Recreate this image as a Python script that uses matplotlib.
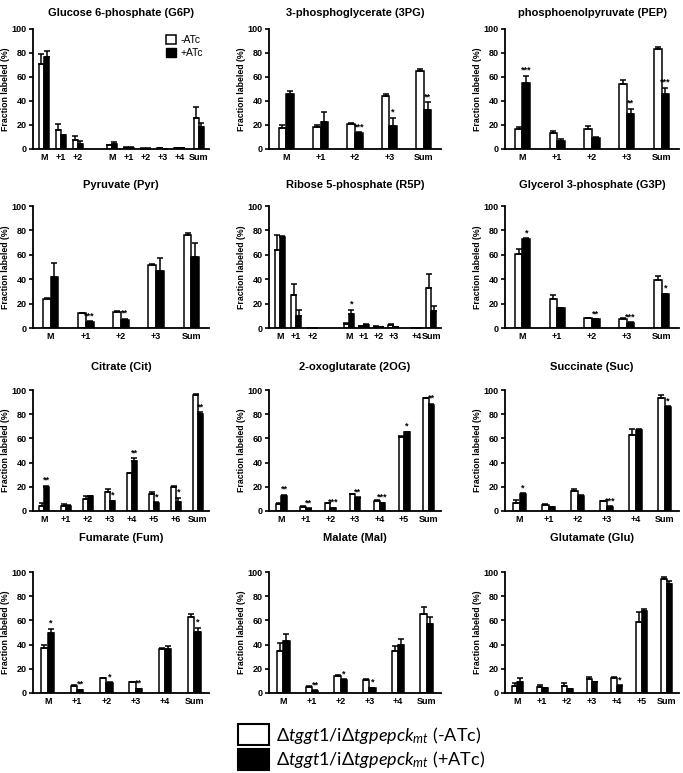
import matplotlib
matplotlib.use("Agg")
import matplotlib.pyplot as plt
from matplotlib.patches import Patch, Rectangle
import numpy as np

plt.rcParams['font.family'] = ['Liberation Sans', 'DejaVu Sans']
plt.rcParams['mathtext.fontset'] = 'custom'
plt.rcParams['mathtext.rm'] = 'Lato'
plt.rcParams['mathtext.it'] = 'Lato:italic'

# ---- data (fraction labeled, %) : -ATc (white) / +ATc (black) ----
g6p_labels = ['M', '+1', '+2', 'M', '+1', '+2', '+3', '+4', 'Sum']
g6p_pos = [0, 1, 2, 4, 5, 6, 7, 8, 9.15]
g6p_minus = [71, 16, 7.5, 3, 1, 0.3, 0.5, 0.5, 26]
g6p_minus_err = [8, 5, 3.5, 0.5, 0.3, 0.2, 0.3, 0.2, 9]
g6p_plus = [77, 11.5, 4.5, 4.5, 1, 0.3, 0.2, 0.5, 18.5]
g6p_plus_err = [5, 0.5, 2, 1.5, 0.3, 0.2, 0.2, 0.2, 3.5]
g6p_stars = [''] * 9

pg3_labels = ['M', '+1', '+2', '+3', 'Sum']
pg3_minus = [17.5, 18.5, 21, 44, 65]
pg3_minus_err = [2.5, 1.5, 0.5, 1.5, 1.5]
pg3_plus = [46, 22.5, 13.5, 19, 32.5]
pg3_plus_err = [2.5, 8.5, 0.5, 7, 6.5]
pg3_stars = ['', '', '***', '*', '**']

pep_labels = ['M', '+1', '+2', '+3', 'Sum']
pep_minus = [16.5, 13.5, 16.5, 54, 83.5]
pep_minus_err = [1.5, 1.5, 3, 3.5, 1.5]
pep_plus = [55, 7, 9.5, 29, 45.5]
pep_plus_err = [6, 1, 0.5, 4.5, 5.5]
pep_stars = ['***', '', '', '**', '***']

pyr_labels = ['M', '+1', '+2', '+3', 'Sum']
pyr_minus = [23.5, 12, 13.5, 51.5, 76.5]
pyr_minus_err = [1.5, 0.3, 0.3, 1, 1]
pyr_plus = [41.5, 5, 6.5, 47, 58.5]
pyr_plus_err = [11.5, 0.5, 1, 10, 11.5]
pyr_stars = ['', '***', '**', '', '']

r5p_labels = ['M', '+1', '+2', 'M', '+1', '+2', '+3', '+4', 'Sum']
r5p_pos = [0, 1, 2, 4.2, 5.1, 6.0, 6.9, 8.3, 9.2]
r5p_minus = [64, 27, 0.2, 3.5, 1.5, 1.2, 2.5, 0.2, 32.5]
r5p_minus_err = [12, 9, 0.1, 1, 0.3, 0.3, 0.5, 0.1, 11.5]
r5p_plus = [75, 10, 0.2, 11.5, 2.5, 0.8, 0.5, 0.2, 14]
r5p_plus_err = [0.5, 5, 0.1, 3.5, 1, 0.3, 0.3, 0.1, 4]
r5p_stars = ['', '', '', '*', '', '', '', '', '']

g3p_labels = ['M', '+1', '+2', '+3', 'Sum']
g3p_minus = [61, 23.5, 8, 7.5, 39]
g3p_minus_err = [3.5, 3.5, 0.3, 0.3, 3.5]
g3p_plus = [73, 16.5, 7, 4.5, 27.5]
g3p_plus_err = [0.5, 0.3, 0.3, 0.3, 0.5]
g3p_stars = ['*', '', '**', '***', '*']

cit_labels = ['M', '+1', '+2', '+3', '+4', '+5', '+6', 'Sum']
cit_minus = [4.5, 4.5, 10, 15.5, 31.5, 14, 19.5, 95.5]
cit_minus_err = [2, 1.5, 2, 2.5, 0.3, 1.5, 1.5, 1.5]
cit_plus = [20, 4.5, 12, 8, 41, 7, 7.5, 80.5]
cit_plus_err = [1, 0.5, 0.3, 0.3, 2.5, 0.3, 3.5, 1]
cit_stars = ['**', '', '', '*', '**', '*', '*', '**']

og2_labels = ['M', '+1', '+2', '+3', '+4', '+5', 'Sum']
og2_minus = [6, 3.5, 6.5, 14, 8.5, 61, 93.5]
og2_minus_err = [0.3, 0.3, 0.3, 0.3, 0.3, 1, 0.3]
og2_plus = [12.5, 2, 2.5, 11, 6.5, 65, 87.5]
og2_plus_err = [1, 0.3, 0.3, 0.5, 0.3, 0.5, 1]
og2_stars = ['**', '**', '***', '**', '***', '*', '**']

suc_labels = ['M', '+1', '+2', '+3', '+4', 'Sum']
suc_minus = [6.5, 5, 16.5, 8, 63, 93.5]
suc_minus_err = [2.5, 1, 1.5, 0.3, 5, 2]
suc_plus = [14, 3, 12.5, 3.5, 67, 86]
suc_plus_err = [0.5, 0.3, 1, 0.3, 1, 0.5]
suc_stars = ['*', '', '', '***', '', '*']

fum_labels = ['M', '+1', '+2', '+3', '+4', 'Sum']
fum_minus = [37, 6, 12, 9, 36, 63]
fum_minus_err = [2.5, 0.3, 0.3, 0.3, 1, 2]
fum_plus = [49.5, 2.5, 8.5, 3, 36, 50.5]
fum_plus_err = [3.5, 0.3, 0.3, 0.3, 2.5, 3.5]
fum_stars = ['*', '**', '*', '**', '', '*']

mal_labels = ['M', '+1', '+2', '+3', '+4', 'Sum']
mal_minus = [35, 5, 14, 10.5, 35, 65]
mal_minus_err = [6, 0.5, 0.5, 1, 3.5, 6]
mal_plus = [43, 2, 11, 4, 40, 57]
mal_plus_err = [5.5, 0.3, 0.3, 0.3, 5, 5.5]
mal_stars = ['', '**', '*', '*', '', '']

glu_labels = ['M', '+1', '+2', '+3', '+4', '+5', 'Sum']
glu_minus = [5.5, 5, 6, 11.5, 12, 58.5, 94]
glu_minus_err = [2.5, 2, 2.5, 2, 1.5, 8.5, 2]
glu_plus = [9.5, 4, 3, 9, 6, 68, 90]
glu_plus_err = [3, 0.3, 0.3, 0.5, 0.5, 1.5, 2.5]
glu_stars = ['', '', '', '', '*', '', '']

panels = [
    ('Glucose 6-phosphate (G6P)', g6p_labels, g6p_pos, g6p_minus, g6p_minus_err, g6p_plus, g6p_plus_err, g6p_stars),
    ('3-phosphoglycerate (3PG)', pg3_labels, None, pg3_minus, pg3_minus_err, pg3_plus, pg3_plus_err, pg3_stars),
    ('phosphoenolpyruvate (PEP)', pep_labels, None, pep_minus, pep_minus_err, pep_plus, pep_plus_err, pep_stars),
    ('Pyruvate (Pyr)', pyr_labels, None, pyr_minus, pyr_minus_err, pyr_plus, pyr_plus_err, pyr_stars),
    ('Ribose 5-phosphate (R5P)', r5p_labels, r5p_pos, r5p_minus, r5p_minus_err, r5p_plus, r5p_plus_err, r5p_stars),
    ('Glycerol 3-phosphate (G3P)', g3p_labels, None, g3p_minus, g3p_minus_err, g3p_plus, g3p_plus_err, g3p_stars),
    ('Citrate (Cit)', cit_labels, None, cit_minus, cit_minus_err, cit_plus, cit_plus_err, cit_stars),
    ('2-oxoglutarate (2OG)', og2_labels, None, og2_minus, og2_minus_err, og2_plus, og2_plus_err, og2_stars),
    ('Succinate (Suc)', suc_labels, None, suc_minus, suc_minus_err, suc_plus, suc_plus_err, suc_stars),
    ('Fumarate (Fum)', fum_labels, None, fum_minus, fum_minus_err, fum_plus, fum_plus_err, fum_stars),
    ('Malate (Mal)', mal_labels, None, mal_minus, mal_minus_err, mal_plus, mal_plus_err, mal_stars),
    ('Glutamate (Glu)', glu_labels, None, glu_minus, glu_minus_err, glu_plus, glu_plus_err, glu_stars),
]

W, H = 683, 773
fig = plt.figure(figsize=(W / 100, H / 100), dpi=100)

col_x = [(33, 209), (269, 441), (505, 679)]
row_y = [(29, 149), (206, 328), (390, 511), (572, 693)]
title_y = [13, 185, 367, 538]

for i, (title, labels, pos, mn, mn_err, pl, pl_err, stars) in enumerate(panels):
    r, c = divmod(i, 3)
    x0, x1 = col_x[c]
    y0, y1 = row_y[r]
    ax = fig.add_axes([x0 / W, 1 - y1 / H, (x1 - x0) / W, (y1 - y0) / H])

    if pos is None:
        x = np.arange(len(labels), dtype=float)
        w = 0.22
        ax.set_xlim(-0.5, len(labels) - 0.5)
    else:
        x = np.array(pos, dtype=float)
        w = 0.3
        ax.set_xlim(-0.65, x[-1] + 0.6)

    ax.bar(x - w / 2, mn, w, color='white', edgecolor='black', linewidth=1.1, zorder=2)
    ax.bar(x + w / 2, pl, w, color='black', edgecolor='black', linewidth=1.1, zorder=2)
    ax.errorbar(x - w / 2, mn, yerr=[np.zeros(len(mn)), mn_err], fmt='none',
                ecolor='black', elinewidth=1.1, capsize=2.5, capthick=1.1, zorder=3)
    ax.errorbar(x + w / 2, pl, yerr=[np.zeros(len(pl)), pl_err], fmt='none',
                ecolor='black', elinewidth=1.1, capsize=2.5, capthick=1.1, zorder=3)
    for xi, v, e, s in zip(x, pl, pl_err, stars):
        if s:
            ax.text(xi + w / 2, v + e + 0.8, s, ha='center', va='bottom',
                    fontsize=6.5, fontweight='bold')

    ax.set_ylim(0, 100)
    ax.set_yticks([0, 20, 40, 60, 80, 100])
    ax.set_xticks(x)
    ax.set_xticklabels(labels)
    ax.tick_params(axis='x', length=0, pad=3, labelsize=6.5)
    ax.tick_params(axis='y', length=3, width=1.2, pad=1.5, labelsize=6.5)
    for lab in ax.get_xticklabels() + ax.get_yticklabels():
        lab.set_fontweight('bold')
    ax.set_ylabel('Fraction labeled (%)', fontsize=6.3, fontweight='bold')
    ax.yaxis.set_label_coords(-23 / (x1 - x0), 0.5)
    for side in ['top', 'right']:
        ax.spines[side].set_visible(False)
    for side in ['left', 'bottom']:
        ax.spines[side].set_linewidth(1.3)

    fig.text((x0 + x1) / 2 / W, 1 - title_y[r] / H, title, ha='center', va='center',
             fontsize=8, fontweight='bold')

    if i == 0:
        ax.legend(handles=[Patch(facecolor='white', edgecolor='black', linewidth=1.1, label='-ATc'),
                           Patch(facecolor='black', edgecolor='black', label='+ATc')],
                  loc='upper right', bbox_to_anchor=(1.02, 1.03), frameon=False,
                  fontsize=7.5, handlelength=1.0, handleheight=1.0, handletextpad=0.4,
                  labelspacing=0.3)

# bottom legend
leg_labels = [r'$\Delta\mathit{tggt1}/\mathrm{i}\Delta\mathit{tgpepck}_{\mathit{mt}}$ (-ATc)',
              r'$\Delta\mathit{tggt1}/\mathrm{i}\Delta\mathit{tgpepck}_{\mathit{mt}}$ (+ATc)']
leg_colors = ['white', 'black']
box_top = [724, 749]
for lab, col, bt in zip(leg_labels, leg_colors, box_top):
    fig.patches.append(Rectangle((238 / W, 1 - (bt + 21) / H), 31 / W, 21 / H,
                                 transform=fig.transFigure, facecolor=col,
                                 edgecolor='black', linewidth=1.5))
    fig.text(276 / W, 1 - (bt + 11) / H, lab, ha='left', va='center',
             fontsize=13, family=['Lato', 'DejaVu Sans'])

fig.savefig('out.png', dpi=100)
